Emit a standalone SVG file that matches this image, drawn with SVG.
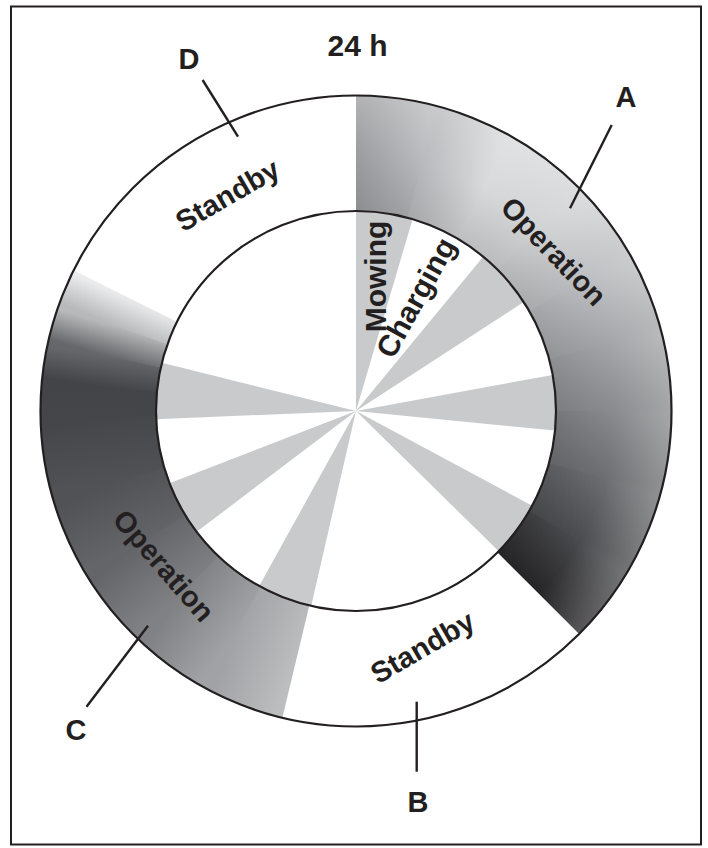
<svg xmlns="http://www.w3.org/2000/svg" xmlns:xlink="http://www.w3.org/1999/xlink" width="708" height="848" viewBox="0 0 708 848">
<style>
.t{font-family:"Liberation Sans",Arial,Helvetica,sans-serif;font-weight:bold;fill:#231f20;text-anchor:middle;font-size:29px}
.big{font-size:30px}
.ln{stroke:#231f20;stroke-width:2.4;fill:none}
.rw{fill:none;stroke-width:116}
.ol{fill:none;stroke:#231f20;stroke-width:2.2}
</style>
<defs>
<linearGradient id="w15" gradientUnits="userSpaceOnUse" x1="257.5" y1="0" x2="248.73" y2="66.65"/>
<linearGradient id="w7" gradientUnits="userSpaceOnUse" x1="257.5" y1="0" x2="255.58" y2="31.38"/>
<radialGradient id="shade" gradientUnits="userSpaceOnUse" cx="0" cy="0" r="316">
  <stop offset="0.63" stop-color="#000" stop-opacity="0.12"/>
  <stop offset="0.815" stop-color="#000" stop-opacity="0"/>
  <stop offset="0.815" stop-color="#fff" stop-opacity="0"/>
  <stop offset="1" stop-color="#fff" stop-opacity="0.24"/>
</radialGradient>
<linearGradient id="a1" xlink:href="#w15"><stop offset="0" stop-color="#9c9da0"/><stop offset="1" stop-color="#b9babd"/></linearGradient>
<linearGradient id="a2" xlink:href="#w15"><stop offset="0" stop-color="#b9babd"/><stop offset="1" stop-color="#d8d9db"/></linearGradient>
<linearGradient id="a3" xlink:href="#w15"><stop offset="0" stop-color="#d8d9db"/><stop offset="1" stop-color="#d2d3d5"/></linearGradient>
<linearGradient id="a4" xlink:href="#w15"><stop offset="0" stop-color="#d2d3d5"/><stop offset="1" stop-color="#bcbdc0"/></linearGradient>
<linearGradient id="a5" xlink:href="#w15"><stop offset="0" stop-color="#bcbdc0"/><stop offset="1" stop-color="#a3a4a7"/></linearGradient>
<linearGradient id="a6" xlink:href="#w15"><stop offset="0" stop-color="#a3a4a7"/><stop offset="1" stop-color="#8a8b8e"/></linearGradient>
<linearGradient id="a7" xlink:href="#w15"><stop offset="0" stop-color="#8a8b8e"/><stop offset="1" stop-color="#6d6e71"/></linearGradient>
<linearGradient id="a8" xlink:href="#w15"><stop offset="0" stop-color="#6d6e71"/><stop offset="1" stop-color="#4a4b4e"/></linearGradient>
<linearGradient id="a9" xlink:href="#w15"><stop offset="0" stop-color="#4a4b4e"/><stop offset="1" stop-color="#252426"/></linearGradient>
<linearGradient id="c1" xlink:href="#w15"><stop offset="0" stop-color="#bcbdbf"/><stop offset="1" stop-color="#a1a2a5"/></linearGradient>
<linearGradient id="c2" xlink:href="#w15"><stop offset="0" stop-color="#a1a2a5"/><stop offset="1" stop-color="#808184"/></linearGradient>
<linearGradient id="c3" xlink:href="#w15"><stop offset="0" stop-color="#808184"/><stop offset="1" stop-color="#646568"/></linearGradient>
<linearGradient id="c4" xlink:href="#w15"><stop offset="0" stop-color="#646568"/><stop offset="1" stop-color="#515255"/></linearGradient>
<linearGradient id="c5" xlink:href="#w15"><stop offset="0" stop-color="#515255"/><stop offset="1" stop-color="#454649"/></linearGradient>
<linearGradient id="c6" xlink:href="#w7"><stop offset="0" stop-color="#454649"/><stop offset="1" stop-color="#434447"/></linearGradient>
<linearGradient id="c7" xlink:href="#w7"><stop offset="0" stop-color="#434447"/><stop offset="1" stop-color="#66676a"/></linearGradient>
<linearGradient id="c8" xlink:href="#w7"><stop offset="0" stop-color="#66676a"/><stop offset="1" stop-color="#b8b9bb"/></linearGradient>
<linearGradient id="c9" xlink:href="#w7"><stop offset="0" stop-color="#b8b9bb"/><stop offset="1" stop-color="#ebeced"/></linearGradient>
</defs>
<rect width="708" height="848" fill="#fff"/>
<rect id="frame" x="11" y="6.5" width="690" height="838" fill="none" stroke="#231f20" stroke-width="2"/>

<g id="dial" transform="translate(356 411)">
  <g id="pie">
    <circle r="100" fill="none" stroke="#c9cacc" stroke-width="200" pathLength="360" stroke-dasharray="16.5 23 17.5 22.6 16.1 22.6 16.2 58.5 16 23.8 16 18.8 16.4 76" transform="rotate(-90)"/>
  </g>
  <g id="segA">
    <circle class="rw" r="257.5" pathLength="360" stroke-dasharray="15.2 344.8" transform="rotate(-90)" stroke="url(#a1)"/>
    <circle class="rw" r="257.5" pathLength="360" stroke-dasharray="15.2 344.8" transform="rotate(-75)" stroke="url(#a2)"/>
    <circle class="rw" r="257.5" pathLength="360" stroke-dasharray="15.2 344.8" transform="rotate(-60)" stroke="url(#a3)"/>
    <circle class="rw" r="257.5" pathLength="360" stroke-dasharray="15.2 344.8" transform="rotate(-45)" stroke="url(#a4)"/>
    <circle class="rw" r="257.5" pathLength="360" stroke-dasharray="15.2 344.8" transform="rotate(-30)" stroke="url(#a5)"/>
    <circle class="rw" r="257.5" pathLength="360" stroke-dasharray="15.2 344.8" transform="rotate(-15)" stroke="url(#a6)"/>
    <circle class="rw" r="257.5" pathLength="360" stroke-dasharray="15.2 344.8" transform="rotate(0)" stroke="url(#a7)"/>
    <circle class="rw" r="257.5" pathLength="360" stroke-dasharray="15.2 344.8" transform="rotate(15)" stroke="url(#a8)"/>
    <circle class="rw" r="257.5" pathLength="360" stroke-dasharray="15 345" transform="rotate(30)" stroke="url(#a9)"/>
    <circle class="rw" r="257.5" pathLength="360" stroke-dasharray="135 225" transform="rotate(-90)" stroke="url(#shade)"/>
  </g>
  <g id="segC">
    <circle class="rw" r="257.5" pathLength="360" stroke-dasharray="15.2 344.8" transform="rotate(103.5)" stroke="url(#c1)"/>
    <circle class="rw" r="257.5" pathLength="360" stroke-dasharray="15.2 344.8" transform="rotate(118.5)" stroke="url(#c2)"/>
    <circle class="rw" r="257.5" pathLength="360" stroke-dasharray="15.2 344.8" transform="rotate(133.5)" stroke="url(#c3)"/>
    <circle class="rw" r="257.5" pathLength="360" stroke-dasharray="15.2 344.8" transform="rotate(148.5)" stroke="url(#c4)"/>
    <circle class="rw" r="257.5" pathLength="360" stroke-dasharray="15.2 344.8" transform="rotate(163.5)" stroke="url(#c5)"/>
    <circle class="rw" r="257.5" pathLength="360" stroke-dasharray="7.2 352.8" transform="rotate(178.5)" stroke="url(#c6)"/>
    <circle class="rw" r="257.5" pathLength="360" stroke-dasharray="7.2 352.8" transform="rotate(185.5)" stroke="url(#c7)"/>
    <circle class="rw" r="257.5" pathLength="360" stroke-dasharray="7.2 352.8" transform="rotate(192.5)" stroke="url(#c8)"/>
    <circle class="rw" r="257.5" pathLength="360" stroke-dasharray="7 353" transform="rotate(199.5)" stroke="url(#c9)"/>
  </g>
  <circle class="ol" r="200"/>
  <circle class="ol" r="315.5"/>
</g>

<g id="title"><text class="t big" x="357.5" y="56">24 h</text></g>
<g id="nodeA"><text class="t" transform="translate(551.5 253.5) rotate(46)" y="7">Operation</text><text class="t" x="626" y="106.5">A</text></g>
<g id="nodeB"><text class="t" transform="translate(423 648) rotate(-30)" y="9">Standby</text><text class="t" x="418" y="811.5">B</text></g>
<g id="nodeC"><text class="t" transform="translate(161.5 567.5) rotate(49)" y="7">Operation</text><text class="t" x="76" y="740">C</text></g>
<g id="nodeD"><text class="t" transform="translate(228 196) rotate(-30)" y="9">Standby</text><text class="t" x="189" y="68.5">D</text></g>
<g id="mowing"><text class="t big" transform="translate(377.5 276.5) rotate(-90)" y="8">Mowing</text></g>
<g id="charging"><text class="t big" transform="translate(418.3 299) rotate(-61)" y="7.5">Charging</text></g>

<g id="connectors">
  <path class="ln" d="M202.6 80L238 136.7"/>
  <path class="ln" d="M611.7 125L570 208.3"/>
  <path class="ln" d="M416.7 701.7V771.7"/>
  <path class="ln" d="M148 625.7L86.5 706.7"/>
</g>
</svg>
